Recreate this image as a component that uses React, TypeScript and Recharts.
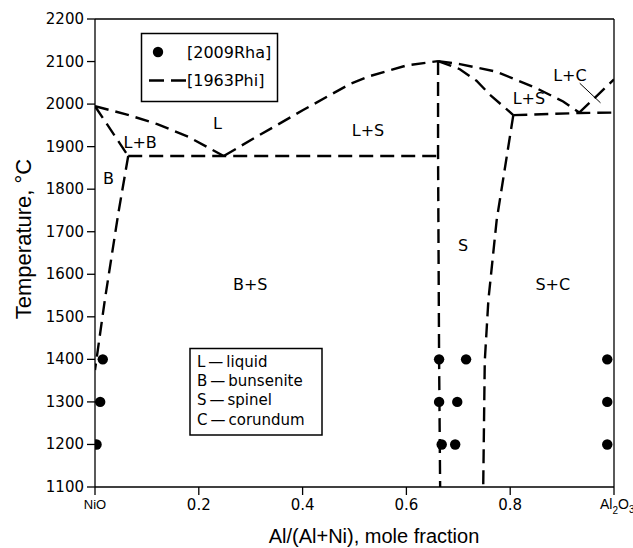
import { ComposedChart, Line, Scatter, XAxis, YAxis, Label } from 'recharts';

// phase boundaries, [1963Phi]
const liquidusNiO = [
    { x: 0, t: 1995 }, { x: 0.06, t: 1976 }, { x: 0.12, t: 1953 }, { x: 0.18, t: 1923 }, { x: 0.248, t: 1878 },
];
const solidusB = [{ x: 0, t: 1995 }, { x: 0.064, t: 1878 }];
const solvusB = [{ x: 0.064, t: 1878 }, { x: 0.045, t: 1744 }, { x: 0.019, t: 1540 }, { x: 0, t: 1375 }];
const eutecticLine = [{ x: 0.064, t: 1878 }, { x: 0.661, t: 1878 }];
const liquidusS = [
    { x: 0.248, t: 1878 }, { x: 0.311, t: 1923 }, { x: 0.401, t: 1986 }, { x: 0.491, t: 2047 },
    { x: 0.53, t: 2066 }, { x: 0.601, t: 2091 }, { x: 0.661, t: 2101 },
];
const spinelLeft = [{ x: 0.661, t: 2101 }, { x: 0.661, t: 1878 }, { x: 0.663, t: 1400 }, { x: 0.665, t: 1100 }];
const solidusSRight = [
    { x: 0.661, t: 2101 }, { x: 0.703, t: 2082 }, { x: 0.735, t: 2055 }, { x: 0.761, t: 2022 },
    { x: 0.793, t: 1988 }, { x: 0.806, t: 1974 },
];
const liquidusSRight = [
    { x: 0.661, t: 2101 }, { x: 0.703, t: 2094 }, { x: 0.774, t: 2076 }, { x: 0.851, t: 2037 },
    { x: 0.902, t: 2006 }, { x: 0.933, t: 1980 },
];
const solvusS = [{ x: 0.806, t: 1974 }, { x: 0.774, t: 1728 }, { x: 0.758, t: 1540 }, { x: 0.751, t: 1396 }, { x: 0.748, t: 1100 }];
const peritecticLine = [{ x: 0.806, t: 1974 }, { x: 0.933, t: 1979 }, { x: 1, t: 1980 }];
const liquidusC = [{ x: 0.933, t: 1980 }, { x: 0.966, t: 2018 }, { x: 1, t: 2058 }];
const leaderLC = [{ x: 0.934, t: 2049 }, { x: 0.974, t: 2003 }];

// experimental points, [2009Rha]
const rhaPoints = [
    { x: 0.015, t: 1400 }, { x: 0.01, t: 1300 }, { x: 0.003, t: 1200 },
    { x: 0.663, t: 1400 }, { x: 0.715, t: 1400 },
    { x: 0.663, t: 1300 }, { x: 0.698, t: 1300 },
    { x: 0.668, t: 1200 }, { x: 0.694, t: 1200 },
    { x: 0.987, t: 1400 }, { x: 0.987, t: 1300 }, { x: 0.987, t: 1200 },
];

const regionLabels = [
    { x: 0.236, t: 1955, name: 'L' },
    { x: 0.087, t: 1912, name: 'L+B' },
    { x: 0.026, t: 1826, name: 'B' },
    { x: 0.526, t: 1939, name: 'L+S' },
    { x: 0.836, t: 2015, name: 'L+S' },
    { x: 0.915, t: 2068, name: 'L+C' },
    { x: 0.709, t: 1669, name: 'S' },
    { x: 0.299, t: 1577, name: 'B+S' },
    { x: 0.882, t: 1577, name: 'S+C' },
];

const xTicks = [0, 0.2, 0.4, 0.6, 0.8, 1];
const yTicks = [1100, 1200, 1300, 1400, 1500, 1600, 1700, 1800, 1900, 2000, 2100, 2200];
const keyItems = ['L', 'B', 'S', 'C'];
const keyNames = ['liquid', 'bunsenite', 'spinel', 'corundum'];

const boundaries = [
    liquidusNiO, solidusB, solvusB, eutecticLine, liquidusS, spinelLeft,
    solidusSRight, liquidusSRight, solvusS, peritecticLine, liquidusC,
];

const FONT = '"DejaVu Sans", sans-serif';
const DASH = '14 7';

function XTick(props: any) {
    const { x, y, payload } = props;
    const v = payload.value;
    if (v === 0) {
        return <text x={x} y={y + 12} textAnchor="middle" fontFamily="Liberation Sans" fontSize={13}>NiO</text>;
    }
    if (v === 1) {
        return (
            <text x={x - 14} y={y + 12} fontFamily="Liberation Sans" fontSize={14}>
                <tspan>Al</tspan>
                <tspan dy={5} fontSize={10}>2</tspan>
                <tspan dy={-5}>O</tspan>
                <tspan dy={4} fontSize={10}>3</tspan>
            </text>
        );
    }
    return <text x={x} y={y + 13} textAnchor="middle" fontFamily={FONT} fontSize={15}>{v.toFixed(1)}</text>;
}

function YTick(props: any) {
    const { x, y, payload } = props;
    return <text x={x} y={y + 5} textAnchor="end" fontFamily={FONT} fontSize={15}>{payload.value}</text>;
}

const noTick = () => <g />;

export default function App() {
    return (
        <div style={{ position: 'absolute', left: 0, top: 0, width: 633, height: 548, background: '#fff' }}>
            <ComposedChart width={633} height={548} margin={{ top: 10, right: 10, bottom: 30, left: 0 }}>
                <XAxis
                    xAxisId="bottom" dataKey="x" type="number" domain={[0, 1]} ticks={xTicks}
                    height={31} tickSize={8} tickMargin={2} tick={<XTick />}
                    stroke="#000" strokeWidth={1.3} allowDataOverflow
                >
                    <Label
                        content={() => (
                            <text x={374} y={543} textAnchor="middle" fontFamily="Liberation Sans" fontSize={20}>
                                Al/(Al+Ni), mole fraction
                            </text>
                        )}
                    />
                </XAxis>
                <XAxis
                    xAxisId="top" orientation="top" dataKey="x" type="number" domain={[0, 1]} ticks={xTicks}
                    height={9} tickSize={8} tick={noTick} stroke="#000" strokeWidth={1.3}
                />
                <YAxis
                    yAxisId="left" dataKey="t" type="number" domain={[1100, 2200]} ticks={yTicks}
                    width={95} tickSize={8} tickMargin={3} tick={<YTick />}
                    stroke="#000" strokeWidth={1.3} allowDataOverflow
                >
                    <Label
                        content={() => (
                            <text x={31} y={239} transform="rotate(-90 31 239)" textAnchor="middle"
                                fontFamily="Liberation Sans" fontSize={22}>
                                Temperature, °C
                            </text>
                        )}
                    />
                </YAxis>
                <YAxis
                    yAxisId="right" orientation="right" dataKey="t" type="number" domain={[1100, 2200]} ticks={yTicks}
                    width={9} tickSize={8} tick={noTick} stroke="#000" strokeWidth={1.3}
                />
                {boundaries.map((d, i) => (
                    <Line
                        key={i} xAxisId="bottom" yAxisId="left" data={d} dataKey="t" type="linear"
                        stroke="#000" strokeWidth={2.4} strokeDasharray={DASH} dot={false}
                        isAnimationActive={false}
                    />
                ))}
                <Line
                    xAxisId="bottom" yAxisId="left" data={leaderLC} dataKey="t" type="linear"
                    stroke="#000" strokeWidth={1} dot={false} isAnimationActive={false}
                />
                <Scatter
                    xAxisId="bottom" yAxisId="left" data={rhaPoints} dataKey="t" isAnimationActive={false}
                    shape={(p: any) => <circle cx={p.cx} cy={p.cy} r={5.2} fill="#000" />}
                />
                <Scatter
                    xAxisId="bottom" yAxisId="left" data={regionLabels} dataKey="t" isAnimationActive={false}
                    shape={(p: any) => (
                        <text x={p.cx} y={p.cy + 6} textAnchor="middle" fontFamily={FONT} fontSize={16}>
                            {p.payload.name}
                        </text>
                    )}
                />
            </ComposedChart>
            <svg width={633} height={548} style={{ position: 'absolute', left: 0, top: 0, pointerEvents: 'none' }}>
                <rect x={141.5} y={33.5} width={136} height={68} fill="#fff" stroke="#000" strokeWidth={1.5} />
                <circle cx={158} cy={52} r={5.2} fill="#000" />
                <text x={187} y={58} fontFamily={FONT} fontSize={16}>[2009Rha]</text>
                <line x1={149} y1={80.5} x2={187} y2={80.5} stroke="#000" strokeWidth={2.4} strokeDasharray="15 7" />
                <text x={187} y={86} fontFamily={FONT} fontSize={16}>[1963Phi]</text>
                <rect x={190} y={348.5} width={132} height={86.5} fill="#fff" stroke="#000" strokeWidth={1.5} />
                {keyItems.map((k, i) => (
                    <text key={k} x={197} y={367 + i * 19.2} fontFamily={FONT} fontSize={15}>
                        {k}{'\u2009\u2014\u2009'}{keyNames[i]}
                    </text>
                ))}
            </svg>
        </div>
    );
}
